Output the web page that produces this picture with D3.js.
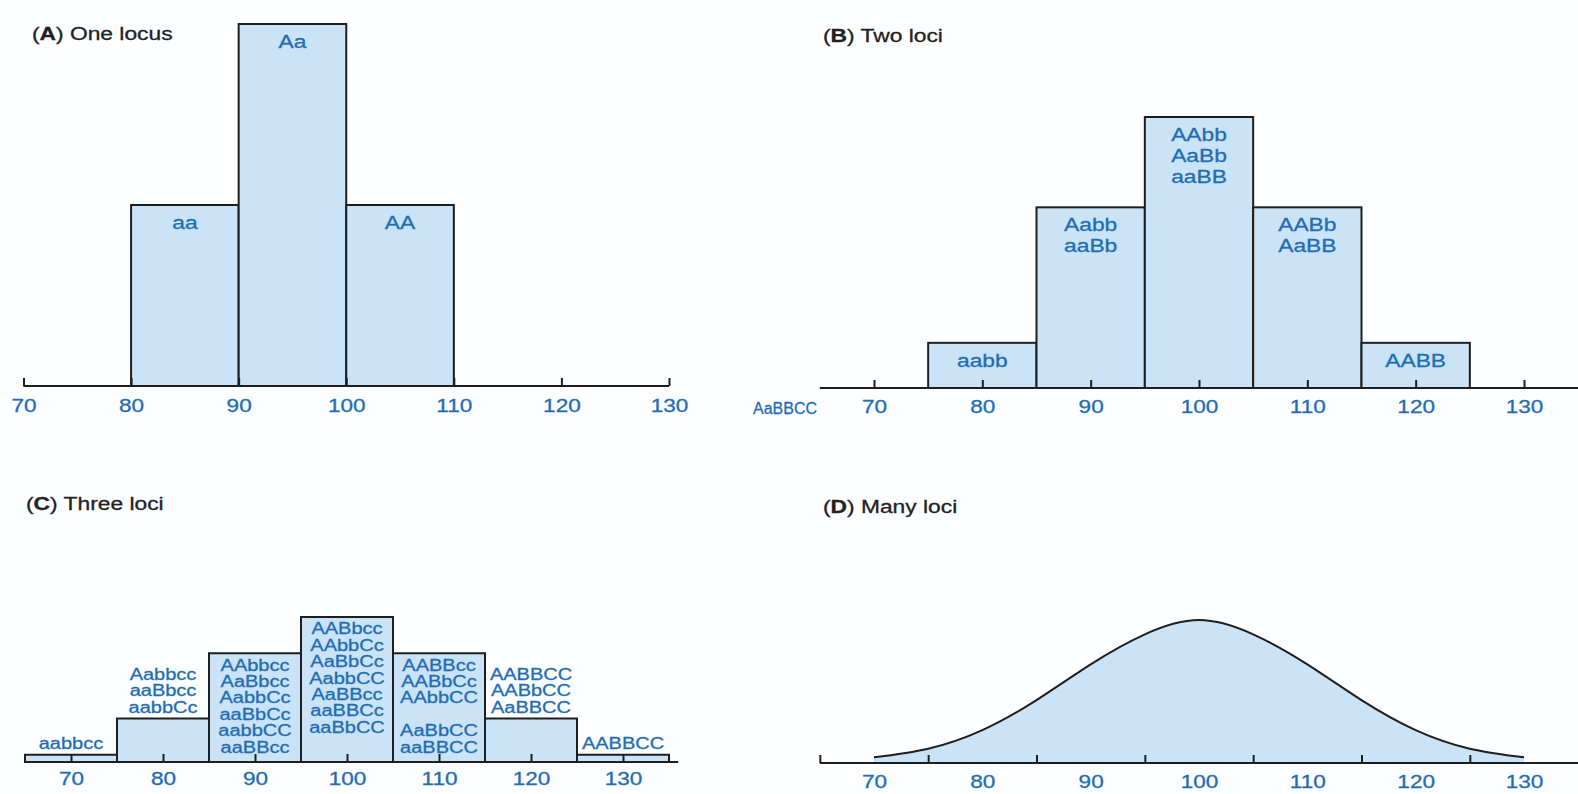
<!DOCTYPE html>
<html>
<head>
<meta charset="utf-8">
<script src="https://cdn.jsdelivr.net/npm/d3@7"></script>
<style>
    html, body { margin: 0; padding: 0; background: #fdfeff; }
    svg { display: block; }
</style>
</head>
<body>
<svg id="chart" width="1578" height="794"></svg>
<script>
// values
const tickLabels = [70, 80, 90, 100, 110, 120, 130];

const binStartsA = [80, 90, 100];
const countsA = [1, 2, 1];
const totalA = 4;
const genotypesA = [["aa"], ["Aa"], ["AA"]];

const binStartsB = [75, 85, 95, 105, 115];
const countsB = [1, 4, 6, 4, 1];
const totalB = 16;
const genotypesB = [
    ["aabb"],
    ["Aabb", "aaBb"],
    ["AAbb", "AaBb", "aaBB"],
    ["AABb", "AaBB"],
    ["AABB"]
];
const strayLabelB = "AaBBCC";

const binStartsC = [65, 75, 85, 95, 105, 115, 125];
const countsC = [1, 6, 15, 20, 15, 6, 1];
const totalC = 64;
const genotypesC = [
    ["aabbcc"],
    ["Aabbcc", "aaBbcc", "aabbCc"],
    ["AAbbcc", "AaBbcc", "AabbCc", "aaBbCc", "aabbCC", "aaBBcc"],
    ["AABbcc", "AAbbCc", "AaBbCc", "AabbCC", "AaBBcc", "aaBBCc", "aaBbCC"],
    ["AABBcc", "AABbCc", "AAbbCC", "", "AaBbCC", "aaBBCC"],
    ["AABBCC", "AABbCC", "AaBBCC"],
    ["AABBCC"]
];

const curveXD = [70, 75, 80, 85, 90, 95, 100, 105, 110, 115, 120, 125, 130];
const curveYD = [0.04, 0.10, 0.23, 0.44, 0.69, 0.90, 1.00, 0.90, 0.69, 0.44, 0.23, 0.10, 0.04];
const tickMarksD = [65, 75, 85, 95, 105, 115, 125];

const titleLetters = ["A", "B", "C", "D"];
const titleTexts = ["One locus", "Two loci", "Three loci", "Many loci"];

const blue = "#1f6db5";
const ink = "#1e1e1e";
const fillBlue = "#cbe3f6";
const fontFam = "'Liberation Sans', Arial, Helvetica, sans-serif";

const svg = d3.select("#chart");

// the scan is stretched sideways, so every text gets a small x scale
const wideText = (g, x, y, str, size, sx, color, anchor = "middle") => {
    return g.append("text")
        .attr("transform", `translate(${x},${y}) scale(${sx},1)`)
        .attr("text-anchor", anchor)
        .attr("dominant-baseline", "central")
        .style("font-family", fontFam)
        .style("font-size", size + "px")
        .style("fill", color)
        .style("stroke", color)
        .style("stroke-width", 0.3)
        .text(str);
}

const drawTitle = (x, y, i) => {
    const t = wideText(svg, x, y, null, 19, 1.2, "#222", "start");
    t.append("tspan").text("(");
    t.append("tspan").style("font-weight", "bold").text(titleLetters[i]);
    t.append("tspan").text(") " + titleTexts[i]);
}

const drawAxis = (g, x, y0, from, to, tickVals, labelVals, gap) => {
    const tickAxis = d3.axisBottom(x)
        .tickValues(tickVals)
        .tickSize(-8)
        .tickSizeOuter(0)
        .tickFormat("");
    const tg = g.append("g").attr("transform", `translate(0,${y0})`).call(tickAxis);
    tg.select(".domain").remove();
    tg.selectAll(".tick line").attr("stroke", ink).attr("stroke-width", 2);

    g.append("line")
        .attr("x1", x(from)).attr("x2", x(to))
        .attr("y1", y0).attr("y2", y0)
        .attr("stroke", ink)
        .attr("stroke-width", 2.2);

    const labelAxis = d3.axisBottom(x)
        .tickValues(labelVals)
        .tickSize(0)
        .tickSizeOuter(0)
        .tickPadding(gap)
        .tickFormat(d3.format("d"));
    const lg = g.append("g")
        .attr("transform", `translate(0,${y0})`)
        .attr("font-size", null)
        .attr("font-family", null)
        .call(labelAxis);
    lg.select(".domain").remove();
    lg.selectAll(".tick text")
        .attr("dy", null)
        .attr("dominant-baseline", "central")
        .attr("transform", "scale(1.22,1)")
        .attr("fill", blue)
        .style("stroke", blue)
        .style("stroke-width", 0.3)
        .style("font-family", fontFam)
        .style("font-size", "18.5px");
}

const drawBars = (g, x, y, y0, starts, counts, total) => {
    g.selectAll("rect.bar")
        .data(starts)
        .join("rect")
        .attr("class", "bar")
        .attr("x", d => x(d))
        .attr("width", d => x(d + 10) - x(d))
        .attr("y", (d, i) => y(counts[i] / total))
        .attr("height", (d, i) => y0 - y(counts[i] / total))
        .attr("fill", fillBlue)
        .attr("stroke", ink)
        .attr("stroke-width", 2);
}

// labels sit inside the bar when they fit, otherwise stacked on top of it
const drawGenotypes = (g, x, y, y0, starts, counts, total, lines, size, sx, lh, pad) => {
    starts.forEach((s, i) => {
        const top = y(counts[i] / total);
        const h = y0 - top;
        const n = lines[i].length;
        const cx = x(s + 5);
        const inside = n * lh + 6 <= h;
        lines[i].forEach((str, j) => {
            const cy = inside ? top + pad + j * lh : top - 11 - (n - 1 - j) * lh;
            wideText(g, cx, cy, str, size, sx, blue);
        });
    });
}

// (A) one locus
const gA = svg.append("g");
const xA = d3.scaleLinear().domain([70, 130]).range([23.5, 669]);
const yA = d3.scaleLinear().domain([0, 0.5]).range([386, 24]);
drawBars(gA, xA, yA, 386, binStartsA, countsA, totalA);
drawAxis(gA, xA, 386, 70, 130, tickLabels, tickLabels, 19);
drawGenotypes(gA, xA, yA, 386, binStartsA, countsA, totalA, genotypesA, 19, 1.2, 21, 17);
drawTitle(32, 33, 0);

// (B) two loci
const gB = svg.append("g");
const xB = d3.scaleLinear().domain([70, 130]).range([874, 1524]);
const yB = d3.scaleLinear().domain([0, 0.375]).range([388, 117]);
drawBars(gB, xB, yB, 388, binStartsB, countsB, totalB);
drawAxis(gB, xB, 388, 65, 136, tickLabels, tickLabels, 18);
drawGenotypes(gB, xB, yB, 388, binStartsB, countsB, totalB, genotypesB, 19, 1.2, 21, 17);
wideText(gB, 785, 408, strayLabelB, 16, 1.0, blue);
drawTitle(823, 35, 1);

// (C) three loci
const gC = svg.append("g");
const xC = d3.scaleLinear().domain([65, 135]).range([25, 669]);
const yC = d3.scaleLinear().domain([0, 20 / 64]).range([762, 617]);
drawBars(gC, xC, yC, 762, binStartsC, countsC, totalC);
drawAxis(gC, xC, 762, 65, 136, tickLabels, tickLabels, 16);
drawGenotypes(gC, xC, yC, 762, binStartsC, countsC, totalC, genotypesC, 16, 1.25, 16.4, 12);
drawTitle(26, 503, 2);

// (D) many loci
const gD = svg.append("g");
const xD = d3.scaleLinear().domain([70, 130]).range([874, 1524]);
const yD = d3.scaleLinear().domain([0, 1]).range([763, 620]);
const ptsD = curveXD.map((v, i) => [v, curveYD[i]]);
gD.append("path")
    .datum(ptsD)
    .attr("d", d3.area().x(d => xD(d[0])).y0(763).y1(d => yD(d[1])).curve(d3.curveNatural))
    .attr("fill", fillBlue);
gD.append("path")
    .datum(ptsD)
    .attr("d", d3.line().x(d => xD(d[0])).y(d => yD(d[1])).curve(d3.curveNatural))
    .attr("fill", "none")
    .attr("stroke", ink)
    .attr("stroke-width", 2);
drawAxis(gD, xD, 763, 65, 136, tickMarksD, tickLabels, 18);
drawTitle(823, 506, 3);
</script>
</body>
</html>
